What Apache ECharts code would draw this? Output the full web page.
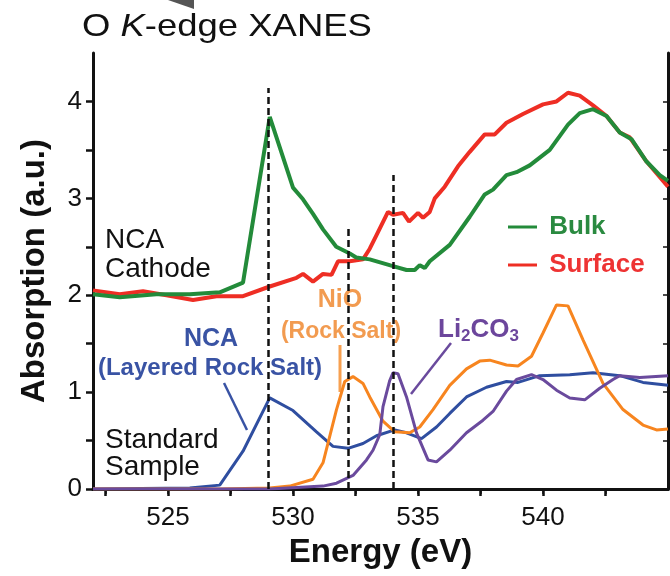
<!DOCTYPE html>
<html>
<head>
<meta charset="utf-8">
<script src="https://cdn.jsdelivr.net/npm/echarts@6/dist/echarts.min.js"></script>
<style>html,body{margin:0;padding:0;background:#fff}#main{width:670px;height:576px}</style>
</head>
<body>
<div id="main"></div>
<script>
// 数据：能量 (eV) 与吸收强度
var bulkE = [522.0, 523.07, 524.53, 525.87, 527.07, 528.0, 529.07, 530.0, 530.4, 530.8, 531.2, 531.73, 532.27, 532.53, 533.07, 534.0, 534.54, 534.87, 535.07, 535.27, 535.47, 536.27, 537.07, 537.67, 538.0, 538.54, 538.94, 539.47, 540.27, 541.0, 541.47, 542.0, 542.54, 543.07, 543.54, 544.14, 544.67, 545.0];
var bulkY = [2.01, 1.98, 2.01, 2.01, 2.03, 2.13, 3.84, 3.11, 2.99, 2.84, 2.68, 2.50, 2.43, 2.39, 2.37, 2.30, 2.26, 2.26, 2.31, 2.28, 2.35, 2.52, 2.81, 3.04, 3.09, 3.24, 3.27, 3.34, 3.50, 3.76, 3.88, 3.92, 3.85, 3.68, 3.61, 3.38, 3.24, 3.18];

var surfE = [522.0, 523.07, 524.0, 524.94, 526.0, 526.94, 528.0, 529.07, 530.14, 530.4, 530.8, 531.2, 531.54, 531.8, 532.27, 532.8, 533.07, 533.34, 533.8, 534.0, 534.4, 534.64, 535.0, 535.2, 535.47, 535.67, 536.07, 536.6, 537.07, 537.67, 538.07, 538.54, 539.2, 540.0, 540.54, 541.0, 541.47, 542.0, 542.54, 543.07, 543.47, 544.14, 545.0];
var surfY = [2.05, 2.01, 2.04, 2.00, 1.95, 1.99, 1.99, 2.09, 2.18, 2.22, 2.14, 2.22, 2.21, 2.35, 2.35, 2.37, 2.48, 2.62, 2.86, 2.83, 2.85, 2.76, 2.85, 2.80, 2.86, 3.00, 3.12, 3.33, 3.48, 3.66, 3.66, 3.78, 3.87, 3.97, 4.00, 4.09, 4.06, 3.96, 3.85, 3.68, 3.63, 3.38, 3.12];

var ncaE = [522.0, 525.87, 527.07, 528.0, 529.07, 530.0, 530.94, 531.6, 532.2, 532.8, 533.34, 534.07, 534.54, 535.14, 535.74, 536.27, 536.94, 537.74, 538.54, 539.0, 539.87, 541.07, 542.0, 543.07, 544.0, 545.0];
var ncaY = [0.0, 0.01, 0.04, 0.39, 0.94, 0.81, 0.59, 0.44, 0.42, 0.47, 0.55, 0.61, 0.58, 0.52, 0.64, 0.78, 0.95, 1.05, 1.11, 1.10, 1.17, 1.18, 1.20, 1.17, 1.10, 1.07];

var nioE = [522.0, 527.07, 529.07, 529.87, 530.8, 531.2, 531.74, 532.07, 532.4, 532.8, 533.07, 533.6, 534.07, 534.67, 535.07, 535.6, 536.27, 536.94, 537.47, 537.87, 538.54, 539.0, 539.54, 540.0, 540.54, 541.0, 541.6, 542.4, 543.2, 544.0, 544.54, 545.0];
var nioY = [0.0, 0.0, 0.01, 0.03, 0.10, 0.27, 0.82, 1.11, 1.16, 1.09, 0.95, 0.70, 0.59, 0.58, 0.64, 0.82, 1.07, 1.24, 1.32, 1.33, 1.28, 1.27, 1.37, 1.61, 1.90, 1.89, 1.54, 1.09, 0.82, 0.66, 0.61, 0.62];

var licoE = [522.0, 529.07, 531.2, 531.74, 532.4, 532.94, 533.2, 533.47, 533.6, 533.87, 534.0, 534.2, 534.54, 534.94, 535.4, 535.74, 536.27, 536.94, 537.6, 538.0, 538.54, 538.94, 539.54, 540.0, 540.54, 541.07, 541.67, 542.27, 542.8, 543.07, 543.87, 545.0];
var licoY = [0.0, 0.0, 0.03, 0.06, 0.14, 0.30, 0.40, 0.56, 0.85, 1.12, 1.20, 1.19, 0.95, 0.58, 0.30, 0.28, 0.40, 0.58, 0.71, 0.80, 1.01, 1.13, 1.18, 1.13, 1.02, 0.94, 0.92, 1.04, 1.13, 1.17, 1.15, 1.17];

// 虚线位置
var dashE = [529, 532.2, 534];
var dashTop = [4.14, 2.70, 3.24];

// 刻度
var xTickVals = [522.5, 525, 527.5, 530, 532.5, 535, 537.5, 540, 542.5];
var xLabelVals = [525, 530, 535, 540];
var yTickVals = [0, 0.5, 1, 1.5, 2, 2.5, 3, 3.5, 4];
var yLabelVals = [0, 1, 2, 3, 4];

function zip(xs, ys) {
    return xs.map(function (x, i) { return [x, ys[i]]; });
}

var FONT = '"Liberation Sans", Arial, sans-serif';
var GREEN = '#238B3A', RED = '#EE2E24', BLUE = '#2F4EA0', ORANGE = '#F7851F', PURPLE = '#6A4A9D';

var myChart = echarts.init(document.getElementById('main'));

var option = {
    backgroundColor: '#fff',
    animation: false,
    legend: {
        orient: 'vertical',
        left: 508,
        top: 212,
        padding: 0,
        itemWidth: 29,
        itemHeight: 3,
        itemGap: 8,
        icon: 'rect',
        formatter: function (n) { return ' ' + n; },
        textStyle: { fontFamily: FONT, fontSize: 26, fontWeight: 'bold', lineHeight: 30 },
        data: [
            { name: 'Bulk', textStyle: { color: '#2A8A40' } },
            { name: 'Surface', textStyle: { color: '#EE3333' } }
        ]
    },
    grid: { left: 93, right: 2, top: 53, bottom: 87 },
    xAxis: [{
        type: 'value', min: 522, max: 545,
        name: 'Energy (eV)', nameLocation: 'middle', nameGap: 47,
        nameTextStyle: { fontFamily: FONT, fontSize: 33, fontWeight: 'bold', color: '#111' },
        axisLine: { lineStyle: { color: '#111', width: 3 } },
        axisTick: { show: true, length: 7, lineStyle: { color: '#111', width: 2.5 }, customValues: xTickVals },
        axisLabel: { fontFamily: FONT, fontSize: 26, color: '#111', margin: 16, customValues: xLabelVals },
        splitLine: { show: false }
    }, {
        type: 'value', min: 522, max: 545, position: 'top',
        axisLine: { lineStyle: { color: '#111', width: 3 } },
        axisTick: { show: true, inside: true, length: 5, lineStyle: { color: '#111', width: 1.5 }, customValues: xTickVals },
        axisLabel: { show: false },
        splitLine: { show: false }
    }],
    yAxis: [{
        type: 'value', min: 0, max: 4.5,
        name: 'Absorption (a.u.)', nameLocation: 'middle', nameGap: 42,
        nameTextStyle: { fontFamily: FONT, fontSize: 33, fontWeight: 'bold', color: '#111' },
        axisLine: { show: true, lineStyle: { color: '#111', width: 3 } },
        axisTick: { show: true, length: 7, lineStyle: { color: '#111', width: 2.5 }, customValues: yTickVals },
        axisLabel: { fontFamily: FONT, fontSize: 26, color: '#111', margin: 11, customValues: yLabelVals },
        splitLine: { show: false }
    }, {
        type: 'value', min: 0, max: 4.5, position: 'right',
        axisLine: { show: true, lineStyle: { color: '#111', width: 3 } },
        axisTick: { show: true, inside: true, length: 5, lineStyle: { color: '#111', width: 1.5 }, customValues: yTickVals },
        axisLabel: { show: false },
        splitLine: { show: false }
    }],
    series: [{
        name: 'Surface', type: 'line', symbol: 'none', z: 2,
        data: zip(surfE, surfY),
        lineStyle: { color: RED, width: 4 }, itemStyle: { color: RED }
    }, {
        name: 'Bulk', type: 'line', symbol: 'none', z: 3,
        data: zip(bulkE, bulkY),
        lineStyle: { color: GREEN, width: 4 }, itemStyle: { color: GREEN }
    }, {
        name: 'NCA', type: 'line', symbol: 'none', z: 3,
        data: zip(ncaE, ncaY),
        lineStyle: { color: BLUE, width: 3 }, itemStyle: { color: BLUE }
    }, {
        name: 'NiO', type: 'line', symbol: 'none', z: 3,
        data: zip(nioE, nioY),
        lineStyle: { color: ORANGE, width: 3 }, itemStyle: { color: ORANGE }
    }, {
        name: 'Li2CO3', type: 'line', symbol: 'none', z: 4,
        data: zip(licoE, licoY),
        lineStyle: { color: PURPLE, width: 3 }, itemStyle: { color: PURPLE },
        markLine: {
            silent: true, symbol: ['none', 'none'], label: { show: false },
            lineStyle: { type: [7, 4], color: '#111', width: 2.5 },
            data: dashE.map(function (e, i) { return [{ coord: [e, 0] }, { coord: [e, dashTop[i]] }]; })
        }
    }],
    graphic: [
        // 标题
        {
            type: 'text', x: 82, y: 11, scaleX: 1.14,
            style: {
                text: 'O {i|K}-edge XANES', font: '32px ' + FONT, fill: '#111',
                rich: { i: { font: 'italic 32px ' + FONT, fill: '#111' } }
            }
        },
        // 顶部灰色小三角
        { type: 'polygon', shape: { points: [[168, 0], [194, 0], [194, 9]] }, style: { fill: '#555' } },
        // 左侧说明文字
        { type: 'text', style: { text: 'NCA\nCathode', x: 105, y: 226, font: '28px ' + FONT, fill: '#111', lineHeight: 29 } },
        { type: 'text', style: { text: 'Standard\nSample', x: 105, y: 427, font: '28px ' + FONT, fill: '#111', lineHeight: 27 } },
        // NCA 标注
        { type: 'text', style: { text: 'NCA', x: 211, y: 339, font: 'bold 25px ' + FONT, fill: '#3953A4', align: 'center', verticalAlign: 'middle' } },
        { type: 'text', style: { text: '(Layered Rock Salt)', x: 210, y: 368, font: 'bold 24px ' + FONT, fill: '#3953A4', align: 'center', verticalAlign: 'middle' } },
        { type: 'line', shape: { x1: 224, y1: 383, x2: 247, y2: 430 }, style: { stroke: '#3953A4', lineWidth: 2.5 } },
        // NiO 标注
        { type: 'text', style: { text: 'NiO', x: 340, y: 300, font: 'bold 25px ' + FONT, fill: '#F29B50', align: 'center', verticalAlign: 'middle' } },
        { type: 'text', style: { text: '(Rock Salt)', x: 341, y: 332, font: 'bold 23px ' + FONT, fill: '#F29B50', align: 'center', verticalAlign: 'middle' } },
        { type: 'line', shape: { x1: 340, y1: 345, x2: 340, y2: 392 }, style: { stroke: '#F7A050', lineWidth: 3 } },
        // Li2CO3 标注
        {
            type: 'text',
            style: {
                text: 'Li{s|2}CO{s|3}', x: 438, y: 314, font: 'bold 26px ' + FONT, fill: '#6C469C',
                rich: { s: { font: 'bold 17px ' + FONT, fill: '#6C469C', padding: [14, 0, 0, 0] } }
            }
        },
        { type: 'line', shape: { x1: 451, y1: 343, x2: 411, y2: 394 }, style: { stroke: PURPLE, lineWidth: 2.5 } }
    ]
};

myChart.setOption(option);
</script>
</body>
</html>
